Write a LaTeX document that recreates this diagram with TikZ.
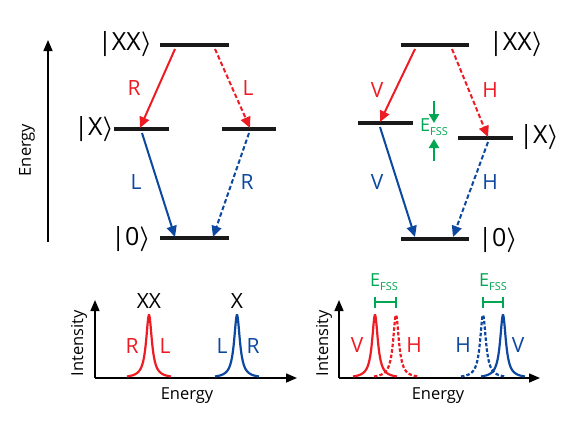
\documentclass[tikz,border=0pt]{standalone}
\usepackage{fontspec}
\setmainfont{Open Sans}
\usetikzlibrary{arrows.meta}
\definecolor{qred}{RGB}{237,28,36}
\definecolor{qblue}{RGB}{12,72,160}
\definecolor{qgreen}{RGB}{0,166,81}
\begin{document}
\begin{tikzpicture}[x=1pt,y=-1pt,
  level/.style={line width=3.4pt,black!90},
  trans/.style={line width=2pt,-{Triangle[length=11pt,width=10pt]}},
  dsh/.style={dash pattern=on 4.5pt off 2.5pt},
  axis/.style={line width=1.5pt,-{Triangle[length=11pt,width=9pt]}},
  lbl/.style={font=\fontsize{21}{21}\selectfont},
  ket/.style={font=\fontsize{25}{25}\selectfont},
  axlbl/.style={font=\fontsize{16.5}{16.5}\selectfont},
  pk/.style={line width=2.2pt},
  fss/.style={qgreen,font=\fontsize{18}{18}\selectfont},
  garr/.style={qgreen,line width=2.2pt,-{Triangle[length=9pt,width=10pt]}}]
\useasboundingbox (0,0) rectangle (581,421);
\newcommand{\fssl}{E\raisebox{-0.45ex}{\fontsize{11}{11}\selectfont FSS}}
\newcommand{\rk}{{\boldmath$\rangle$}}
% ---------------- left level scheme ----------------
\coordinate (eb) at (48,242); \coordinate (et) at (48,40);
\draw[axis] (eb) -- (et);
\node[axlbl,rotate=90] (elab) at (27,150) {Energy};
\draw[level] (160,45) coordinate (xxa) -- (229,45) coordinate (xxb);
\draw[level] (114,129) coordinate (xla) -- (169,129) coordinate (xlb);
\draw[level] (222,129) coordinate (xra) -- (276,129) coordinate (xrb);
\draw[level] (160,238) coordinate (ga) -- (229,238) coordinate (gb);
\node[ket] (kxx) at (125,44) {|XX\rk};
\node[ket] (kx) at (94,129) {|X\rk};
\node[ket] (k0) at (131,239) {|0\rk};
\coordinate (a1s) at (175,49); \coordinate (a1e) at (140,128);
\coordinate (a2s) at (215,49); \coordinate (a2e) at (250,128);
\coordinate (a3s) at (142,133); \coordinate (a3e) at (175,237);
\coordinate (a4s) at (249,133); \coordinate (a4e) at (213,237);
\draw[trans,qred] (a1s) -- (a1e);
\draw[trans,qred,dsh] (a2s) -- (a2e);
\draw[trans,qblue] (a3s) -- (a3e);
\draw[trans,qblue,dsh] (a4s) -- (a4e);
\node[lbl,qred] (lR1) at (134,88) {R};
\node[lbl,qred] (lL1) at (248,88) {L};
\node[lbl,qblue] (lL2) at (136,182) {L};
\node[lbl,qblue] (lR2) at (247,182) {R};
% ---------------- right level scheme ----------------
\draw[level] (401,45) coordinate (rxxa) -- (469,45) coordinate (rxxb);
\draw[level] (358,123) coordinate (rxla) -- (413,123) coordinate (rxlb);
\draw[level] (458,138) coordinate (rxra) -- (513,138) coordinate (rxrb);
\draw[level] (401,239) coordinate (rga) -- (469,239) coordinate (rgb);
\node[ket] (rkxx) at (516,44) {|XX\rk};
\node[ket] (rkx) at (539,137) {|X\rk};
\node[ket] (rk0) at (498,240) {|0\rk};
\coordinate (b1s) at (415,49); \coordinate (b1e) at (380,122);
\coordinate (b2s) at (452,49); \coordinate (b2e) at (488,137);
\coordinate (b3s) at (380,127); \coordinate (b3e) at (415,237);
\coordinate (b4s) at (488,142); \coordinate (b4e) at (453,237);
\draw[trans,qred] (b1s) -- (b1e);
\draw[trans,qred,dsh] (b2s) -- (b2e);
\draw[trans,qblue] (b3s) -- (b3e);
\draw[trans,qblue,dsh] (b4s) -- (b4e);
\node[lbl,qred] (lV1) at (377,90) {V};
\node[lbl,qred] (lH1) at (490,90) {H};
\node[lbl,qblue] (lV2) at (377,182) {V};
\node[lbl,qblue] (lH2) at (490,182) {H};
\node[fss] (efss) at (434,127) {\fssl};
\coordinate (g1s) at (434,101); \coordinate (g1e) at (434,123);
\coordinate (g2s) at (434,161); \coordinate (g2e) at (434,139);
\draw[garr] (g1s) -- (g1e);
\draw[garr] (g2s) -- (g2e);
% ---------------- left spectrum ----------------
\coordinate (o1) at (95,378); \coordinate (y1) at (95,300); \coordinate (x1) at (297,378);
\draw[axis] (o1) -- (y1);
\draw[axis] (o1) -- (x1);
\node[axlbl,rotate=90] (int1) at (79,343) {Intensity};
\node[axlbl] (en1) at (187,396) {Energy};
\draw[pk,qred] plot[domain=-22:22,samples=120] ({149+\x},{378-63*12.25/(\x*\x+12.25)});
\draw[pk,qblue] plot[domain=-22:22,samples=120] ({237+\x},{378-63*12.25/(\x*\x+12.25)});
\node[lbl] (sxx) at (149,301) {XX};
\node[lbl] (sx) at (237,301) {X};
\node[lbl,qred] (sR) at (132,346) {R};
\node[lbl,qred] (sL) at (165,346) {L};
\node[lbl,qblue] (sL2) at (222,346) {L};
\node[lbl,qblue] (sR2) at (253,346) {R};
% ---------------- right spectrum ----------------
\coordinate (o2) at (339,378); \coordinate (y2) at (339,300); \coordinate (x2) at (540,378);
\draw[axis] (o2) -- (y2);
\draw[axis] (o2) -- (x2);
\node[axlbl,rotate=90] (int2) at (324,343) {Intensity};
\node[axlbl] (en2) at (438,396) {Energy};
\draw[pk,qred] plot[domain=-22:22,samples=120] ({375+\x},{378-63*12.25/(\x*\x+12.25)});
\draw[pk,qred,dash pattern=on 3.5pt off 2pt] plot[domain=-22:22,samples=120] ({396+\x},{378-63*12.25/(\x*\x+12.25)});
\draw[pk,qblue,dash pattern=on 3.5pt off 2pt] plot[domain=-22:22,samples=120] ({483+\x},{378-63*12.25/(\x*\x+12.25)});
\draw[pk,qblue] plot[domain=-22:22,samples=120] ({503+\x},{378-63*12.25/(\x*\x+12.25)});
\node[lbl,qred] (sV) at (357,345) {V};
\node[lbl,qred] (sH) at (414,345) {H};
\node[lbl,qblue] (sH2) at (463,345) {H};
\node[lbl,qblue] (sV2) at (518,345) {V};
\coordinate (f1a) at (375,302); \coordinate (f1b) at (396,302);
\coordinate (f2a) at (483,302); \coordinate (f2b) at (503,302);
\draw[qgreen,line width=2.2pt] (f1a) -- (f1b);
\draw[qgreen,line width=2.2pt] ([yshift=-5.5pt]f1a) -- ([yshift=5.5pt]f1a);
\draw[qgreen,line width=2.2pt] ([yshift=-5.5pt]f1b) -- ([yshift=5.5pt]f1b);
\draw[qgreen,line width=2.2pt] (f2a) -- (f2b);
\draw[qgreen,line width=2.2pt] ([yshift=-5.5pt]f2a) -- ([yshift=5.5pt]f2a);
\draw[qgreen,line width=2.2pt] ([yshift=-5.5pt]f2b) -- ([yshift=5.5pt]f2b);
\node[fss] (fs1) at (384,282) {\fssl};
\node[fss] (fs2) at (493,282) {\fssl};
\end{tikzpicture}
\end{document}
